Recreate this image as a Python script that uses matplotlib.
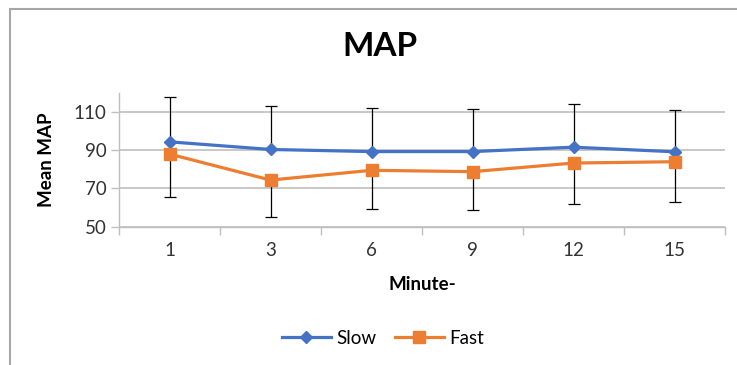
import numpy as np
import matplotlib.pyplot as plt
from matplotlib.patches import Rectangle

plt.rcParams['font.family'] = ['Lato', 'DejaVu Sans']

minutes = ['1', '3', '6', '9', '12', '15']
slow = [94.4, 90.4, 89.3, 89.3, 91.6, 89.2]
fast = [88.0, 74.4, 79.5, 78.8, 83.3, 84.0]
slow_sd = [23.5, 23.0, 22.6, 22.3, 22.8, 21.7]
fast_sd = [22.5, 19.2, 20.3, 20.2, 21.4, 21.0]

blue = '#4472C4'
orange = '#ED7D31'
grid_c = '#BFBFBF'
fs = 13.5

fig = plt.figure(figsize=(7.37, 3.65), dpi=100)
ax = fig.add_axes([119/737, 1-226.7/365, 606/737, 133.8/365])
x = np.arange(len(minutes))

# error bars: slow goes up, fast goes down
ax.errorbar(x, slow, yerr=[np.zeros(len(x)), slow_sd], fmt='none',
            ecolor='black', elinewidth=0.9, capsize=4, capthick=0.9, zorder=2)
ax.errorbar(x, fast, yerr=[fast_sd, np.zeros(len(x))], fmt='none',
            ecolor='black', elinewidth=0.9, capsize=4, capthick=0.9, zorder=2)
ax.plot(x, slow, color=blue, lw=2.3, marker='D', ms=6.5, label='Slow', zorder=3)
ax.plot(x, fast, color=orange, lw=2.3, marker='s', ms=8, label='Fast', zorder=3)

ax.set_xlim(-0.5, len(x)-0.5)
ax.set_ylim(50, 120)
ax.set_yticks([50, 70, 90, 110])
ax.set_xticks(x)
ax.set_xticklabels(minutes)
ax.set_xticks(np.arange(-0.5, len(x), 1), minor=True)
ax.tick_params(axis='x', which='major', length=0, pad=11, labelsize=fs, colors='#333333')
ax.tick_params(axis='x', which='minor', length=6, color=grid_c, width=1)
ax.tick_params(axis='y', length=6, color=grid_c, width=1, pad=3, labelsize=fs, labelcolor='#333333')
ax.yaxis.grid(True, color=grid_c, lw=1.2)
ax.set_axisbelow(True)
for s in ['top', 'right']:
    ax.spines[s].set_visible(False)
for s in ['left', 'bottom']:
    ax.spines[s].set_color(grid_c)
    ax.spines[s].set_linewidth(1)

fig.text(380/737, 1-46/365, 'MAP', ha='center', va='center', fontsize=24, fontweight='bold')
fig.text(47/737, 1-160/365, 'Mean MAP', ha='center', va='center', rotation=90,
         fontsize=fs, fontweight='bold')
fig.text(422/737, 1-284/365, 'Minute-', ha='center', va='center', fontsize=fs, fontweight='bold')

fig.legend(loc='center', bbox_to_anchor=(383/737, 1-338/365), ncol=2, frameon=False,
           fontsize=fs, handlelength=2.6, columnspacing=1.0, handletextpad=0.3)

# chart border
fig.patches.append(Rectangle((10/737, -0.1), 1.2, 1-9/365+0.1, transform=fig.transFigure,
                             fill=False, ec='#A6A6A6', lw=1.5))

fig.savefig('out.png', dpi=100)
